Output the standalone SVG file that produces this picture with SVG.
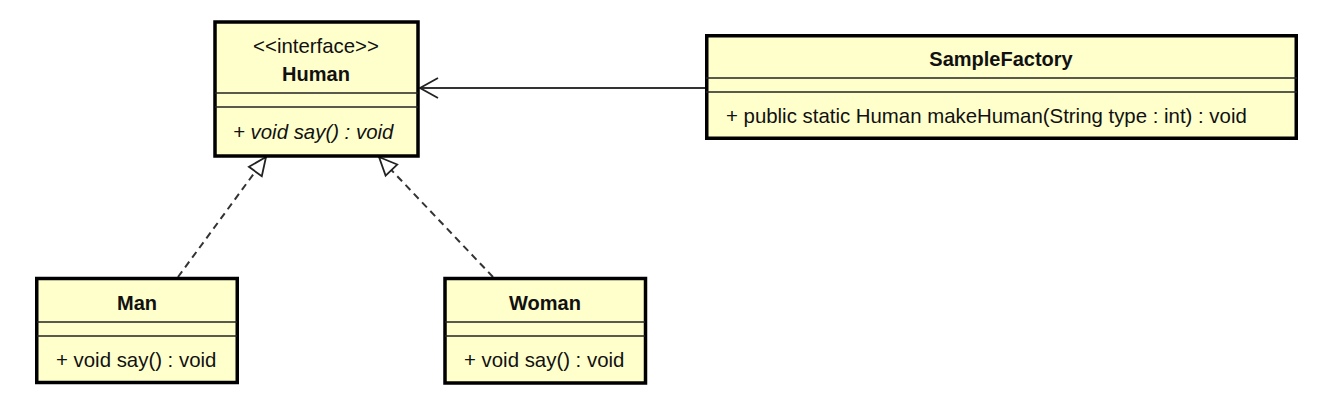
<svg xmlns="http://www.w3.org/2000/svg" width="1326" height="402" viewBox="0 0 1326 402">
  <style>
    .box { fill: #ffffcc; stroke: #000; stroke-width: 3.5; }
    .div { stroke: #222; stroke-width: 1.5; }
    .t { font-family: "Liberation Sans", Arial, sans-serif; font-size: 20.4px; fill: #111; }
    .title { font-weight: bold; text-anchor: middle; font-size: 20px; }
    .stereo { text-anchor: middle; }
    .abs { font-style: italic; }
    .dep { fill: none; stroke: #333; stroke-width: 2; stroke-dasharray: 7 5; }
    .assoc { fill: none; stroke: #333; stroke-width: 1.8; }
  </style>
  <defs>
    <marker id="realize" markerUnits="userSpaceOnUse" viewBox="-22 -12 26 24" refX="0" refY="0" markerWidth="26" markerHeight="24" orient="auto" overflow="visible">
      <polygon points="0,0 -18,-8 -18,8" fill="#ffffff" stroke="#222" stroke-width="1.8" stroke-dasharray="none" stroke-linejoin="miter"/>
    </marker>
    <marker id="open" markerUnits="userSpaceOnUse" viewBox="-22 -12 26 24" refX="0" refY="0" markerWidth="26" markerHeight="24" orient="auto" overflow="visible">
      <polyline points="-18,-10 0,0 -18,10" fill="none" stroke="#222" stroke-width="1.8"/>
    </marker>
  </defs>

  <g id="connectors">
    <path class="dep" d="M178,277 L266,157" marker-end="url(#realize)"/>
    <path class="dep" d="M493,277 L379,157" marker-end="url(#realize)"/>
    <path class="assoc" d="M705,88 L420,88" marker-end="url(#open)"/>
  </g>

  <g id="Human">
    <rect class="box" x="215" y="22" width="203" height="134"/>
    <line class="div" x1="215" y1="93" x2="418" y2="93"/>
    <line class="div" x1="215" y1="107" x2="418" y2="107"/>
    <text class="t stereo" x="316" y="53">&lt;&lt;interface&gt;&gt;</text>
    <text class="t title" x="316" y="81">Human</text>
    <text class="t abs" x="233" y="139">+ void say() : void</text>
  </g>

  <g id="SampleFactory">
    <rect class="box" x="706.75" y="35.75" width="589.5" height="102.5"/>
    <line class="div" x1="706" y1="78" x2="1297" y2="78"/>
    <line class="div" x1="706" y1="92" x2="1297" y2="92"/>
    <text class="t title" x="1001" y="66">SampleFactory</text>
    <text class="t" x="726" y="123">+ public static Human makeHuman(String type : int) : void</text>
  </g>

  <g id="Man">
    <rect class="box" x="36.75" y="278.5" width="200.5" height="104"/>
    <line class="div" x1="37" y1="322" x2="237" y2="322"/>
    <line class="div" x1="37" y1="336" x2="237" y2="336"/>
    <text class="t title" x="137" y="310">Man</text>
    <text class="t" x="56" y="367">+ void say() : void</text>
  </g>

  <g id="Woman">
    <rect class="box" x="445" y="278.5" width="200.5" height="104.5"/>
    <line class="div" x1="445" y1="322" x2="645" y2="322"/>
    <line class="div" x1="445" y1="336" x2="645" y2="336"/>
    <text class="t title" x="545" y="310">Woman</text>
    <text class="t" x="464" y="367">+ void say() : void</text>
  </g>
</svg>
